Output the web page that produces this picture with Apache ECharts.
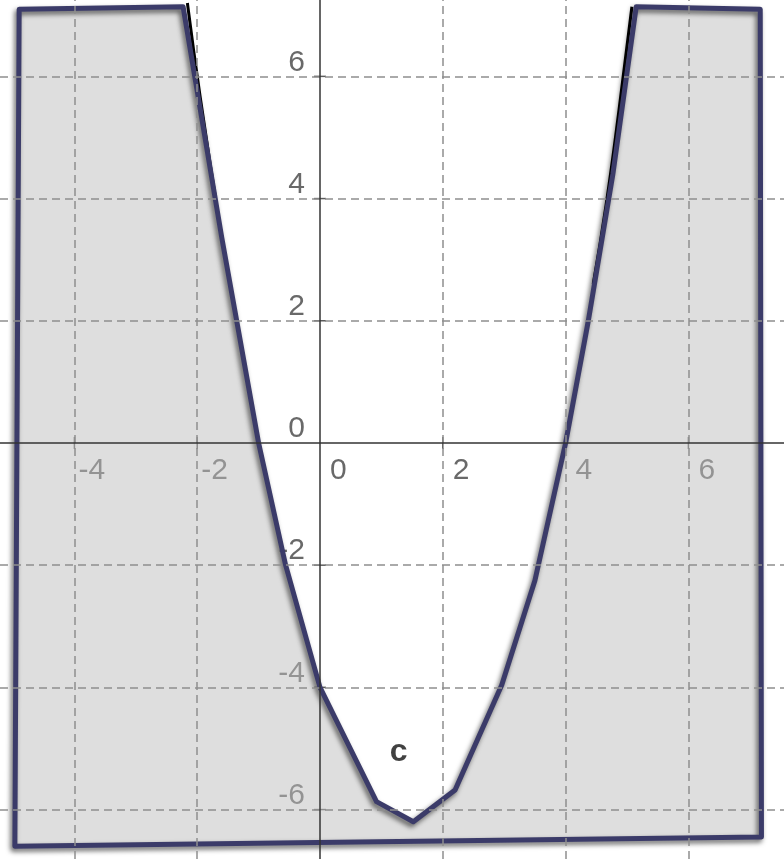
<!DOCTYPE html>
<html>
<head>
<meta charset="utf-8">
<script src="https://cdn.jsdelivr.net/npm/echarts@6/dist/echarts.min.js"></script>
<style>
  html, body { margin: 0; padding: 0; background: #fff; }
  #chart { width: 784px; height: 859px; }
</style>
</head>
<body>
<div id="chart"></div>
<script>
// visible window of the plane
var xMin = -5.212, xMax = 7.557, yMin = -6.809, yMax = 7.250;

// ticks / grid lines
var xTicks = [-4, -2, 0, 2, 4, 6];
var yTicks = [-6, -4, -2, 0, 2, 4, 6];

// shaded region (outline, clockwise from top-left)
var regionX = [-4.90, -2.23, -1.60, -1.00, -0.56, 0.00, 0.92, 1.52, 2.20, 2.96, 3.50, 4.00, 4.37, 4.77, 5.15, 7.17, 7.19, -4.97];
var regionY = [7.10, 7.14, 3.36, 0.00, -2.00, -4.00, -5.87, -6.20, -5.68, -3.96, -2.25, 0.00, 2.00, 4.40, 7.14, 7.10, -6.45, -6.60];

// black curve pieces visible near the top
var curveX = [-2.16, -1.95, -1.62, null, 4.45, 4.66, 4.87, 5.08];
var curveY = [7.20, 5.65, 3.48, null, 2.60, 3.90, 5.45, 7.14];

// curve name label
var curveName = 'c';
var labelPos = [1.28, -5.06];

var chart = echarts.init(document.getElementById('chart'));

var font = 'Liberation Sans, Arial, sans-serif';
var axisColor = '#333';
var gridColor = '#8e8e8e';
var tickFont = { fontFamily: font, fontSize: 30, color: '#444' };

function regionPoints(api) {
  return regionX.map(function (x, i) {
    return api.coord([x, regionY[i]]);
  });
}

var curveData = curveX.map(function (x, i) {
  return x === null ? '-' : [x, curveY[i]];
});

var gridLines = xTicks.filter(function (v) { return v !== 0; }).map(function (v) { return { xAxis: v }; })
  .concat(yTicks.filter(function (v) { return v !== 0; }).map(function (v) { return { yAxis: v }; }));

var xLabelData = xTicks.map(function (v) {
  return {
    value: [v, 0],
    label: Object.assign({ show: true, position: 'inside', align: 'left', verticalAlign: 'middle',
      offset: [v < 0 ? 4 : 10, 28], formatter: String(v) }, tickFont)
  };
});
var yLabelData = yTicks.map(function (v) {
  return {
    value: [0, v],
    label: Object.assign({ show: true, position: 'inside', align: 'right', verticalAlign: 'middle',
      offset: [-15, -14], formatter: String(v) }, tickFont)
  };
});

var xTickMarks = xTicks.filter(function (v) { return v !== 0; }).map(function (v) { return [v, 0]; });
var yTickMarks = yTicks.filter(function (v) { return v !== 0; }).map(function (v) { return [0, v]; });

var option = {
  animation: false,
  backgroundColor: '#fff',
  grid: { left: 0, right: 0, top: 0, bottom: 0, containLabel: false },
  xAxis: { type: 'value', min: xMin, max: xMax, show: false, splitLine: { show: false } },
  yAxis: { type: 'value', min: yMin, max: yMax, show: false, splitLine: { show: false } },
  series: [
    {
      // dashed grid
      type: 'line',
      z: 0,
      silent: true,
      data: [],
      markLine: {
        silent: true,
        symbol: 'none',
        label: { show: false },
        animation: false,
        lineStyle: { color: gridColor, width: 1.5, type: [8, 5] },
        data: gridLines
      }
    },
    {
      // axes
      type: 'line',
      z: 1,
      silent: true,
      data: [],
      markLine: {
        silent: true,
        symbol: 'none',
        label: { show: false },
        animation: false,
        lineStyle: { color: axisColor, width: 1.5, type: 'solid' },
        data: [{ xAxis: 0 }, { yAxis: 0 }]
      }
    },
    {
      type: 'scatter',
      z: 1,
      silent: true,
      symbol: 'rect',
      symbolSize: [1.5, 12],
      itemStyle: { color: axisColor },
      data: xTickMarks
    },
    {
      type: 'scatter',
      z: 1,
      silent: true,
      symbol: 'rect',
      symbolSize: [12, 1.5],
      itemStyle: { color: axisColor },
      data: yTickMarks
    },
    {
      type: 'scatter',
      z: 1,
      silent: true,
      symbolSize: 0,
      data: xLabelData
    },
    {
      type: 'scatter',
      z: 1,
      silent: true,
      symbolSize: 0,
      data: yLabelData
    },
    {
      // region fill
      type: 'custom',
      z: 2,
      silent: true,
      data: [[regionX[0], regionY[0]]],
      renderItem: function (params, api) {
        return {
          type: 'polygon',
          shape: { points: regionPoints(api) },
          style: { fill: 'rgba(190,190,190,0.5)', stroke: null }
        };
      }
    },
    {
      type: 'line',
      z: 3,
      silent: true,
      data: curveData,
      showSymbol: false,
      smooth: true,
      connectNulls: false,
      lineStyle: { color: '#000', width: 3 }
    },
    {
      // region outline
      type: 'custom',
      z: 4,
      silent: true,
      data: [[regionX[0], regionY[0]]],
      renderItem: function (params, api) {
        return {
          type: 'polygon',
          shape: { points: regionPoints(api) },
          style: {
            fill: null,
            stroke: '#3b3b69',
            lineWidth: 5,
            lineJoin: 'round',
            shadowColor: 'rgba(0,0,0,0.6)',
            shadowBlur: 5,
            shadowOffsetX: -2,
            shadowOffsetY: 3
          }
        };
      }
    },
    {
      type: 'scatter',
      z: 5,
      silent: true,
      symbolSize: 0,
      data: [labelPos],
      label: {
        show: true,
        position: 'inside',
        formatter: curveName,
        fontFamily: font,
        fontSize: 32,
        fontWeight: 'bold',
        color: '#111'
      }
    }
  ]
};

chart.setOption(option);
</script>
</body>
</html>
